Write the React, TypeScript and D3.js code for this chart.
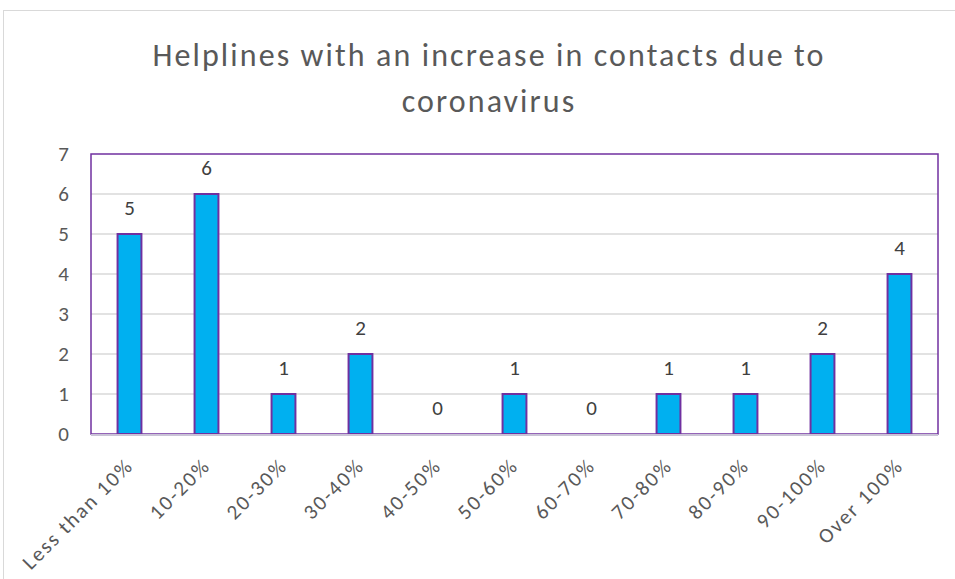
import React, { useEffect, useRef } from 'react'
import * as d3 from 'd3'

const categories = ['Less than 10%', '10-20%', '20-30%', '30-40%', '40-50%', '50-60%', '60-70%', '70-80%', '80-90%', '90-100%', 'Over 100%']
const counts = [5, 6, 1, 2, 0, 1, 0, 1, 1, 2, 4]
const yTicks = [0, 1, 2, 3, 4, 5, 6, 7]
const titleLines = ['Helplines with an increase in contacts due to', 'coronavirus']

const W = 955
const H = 579
const FONT = 'Calibri, Carlito, "Open Sans", sans-serif'

const App = () => {
  const svgRef = useRef<SVGSVGElement>(null)

  useEffect(() => {
    const svg = d3.select(svgRef.current)
    svg.selectAll('*').remove()

    const left = 91
    const right = 938
    const top = 154
    const bottom = 434

    const x = d3.scaleBand().domain(categories).range([left, right]).paddingInner(0.69).paddingOuter(0.345)
    const y = d3.scaleLinear().domain([0, 7]).range([bottom, top])

    // chart frame
    svg.append('rect')
      .attr('x', 3.5).attr('y', 10.5)
      .attr('width', W + 10).attr('height', H)
      .attr('fill', 'white').attr('stroke', '#d9d9d9')

    // title
    svg.append('g').selectAll('text')
      .data(titleLines)
      .join('text')
      .attr('x', 489).attr('y', (d, i) => 66 + i * 46)
      .attr('text-anchor', 'middle')
      .attr('font-family', FONT).attr('font-size', 32)
      .attr('letter-spacing', 2.1)
      .attr('fill', '#595959')
      .text(d => d)

    // gridlines
    svg.append('g').selectAll('line')
      .data(yTicks.slice(1, -1))
      .join('line')
      .attr('x1', left).attr('x2', right)
      .attr('y1', d => y(d)).attr('y2', d => y(d))
      .attr('stroke', '#d9d9d9').attr('stroke-width', 1.5)

    // plot area border
    svg.append('rect')
      .attr('x', left).attr('y', top)
      .attr('width', right - left).attr('height', bottom - top)
      .attr('fill', 'none').attr('stroke', '#7030a0').attr('stroke-width', 1.5)

    // bars
    svg.append('g').selectAll('rect')
      .data(counts)
      .join('rect')
      .attr('x', (d, i) => x(categories[i])!)
      .attr('y', d => y(d))
      .attr('width', x.bandwidth())
      .attr('height', d => bottom - y(d))
      .attr('fill', '#00b0f0')
      .attr('stroke', d => d > 0 ? '#7030a0' : 'none')
      .attr('stroke-width', 2)

    // x axis line
    svg.append('line')
      .attr('x1', left).attr('x2', right)
      .attr('y1', bottom + 1).attr('y2', bottom + 1)
      .attr('stroke', '#c9c3d6').attr('stroke-width', 2)

    // value labels
    svg.append('g').selectAll('text')
      .data(counts)
      .join('text')
      .attr('x', (d, i) => x(categories[i])! + x.bandwidth() / 2)
      .attr('y', d => y(d) - 19)
      .attr('text-anchor', 'middle')
      .attr('font-family', FONT).attr('font-size', 21)
      .attr('fill', '#404040')
      .text(d => d)

    // y tick labels
    svg.append('g').selectAll('text')
      .data(yTicks)
      .join('text')
      .attr('x', 69).attr('y', d => y(d) + 7)
      .attr('text-anchor', 'end')
      .attr('font-family', FONT).attr('font-size', 21)
      .attr('fill', '#595959')
      .text(d => d)

    // x tick labels
    svg.append('g').selectAll('text')
      .data(categories)
      .join('text')
      .attr('transform', d => `translate(${x(d)! + x.bandwidth() / 2 + 5},${bottom + 33}) rotate(-45)`)
      .attr('text-anchor', 'end')
      .attr('font-family', FONT).attr('font-size', 21)
      .attr('letter-spacing', 2)
      .attr('fill', '#595959')
      .text(d => d)
  }, [])

  return (
    <svg ref={svgRef} width={W} height={H} style={{ position: 'absolute', left: 0, top: 0 }} />
  )
}

export default App
